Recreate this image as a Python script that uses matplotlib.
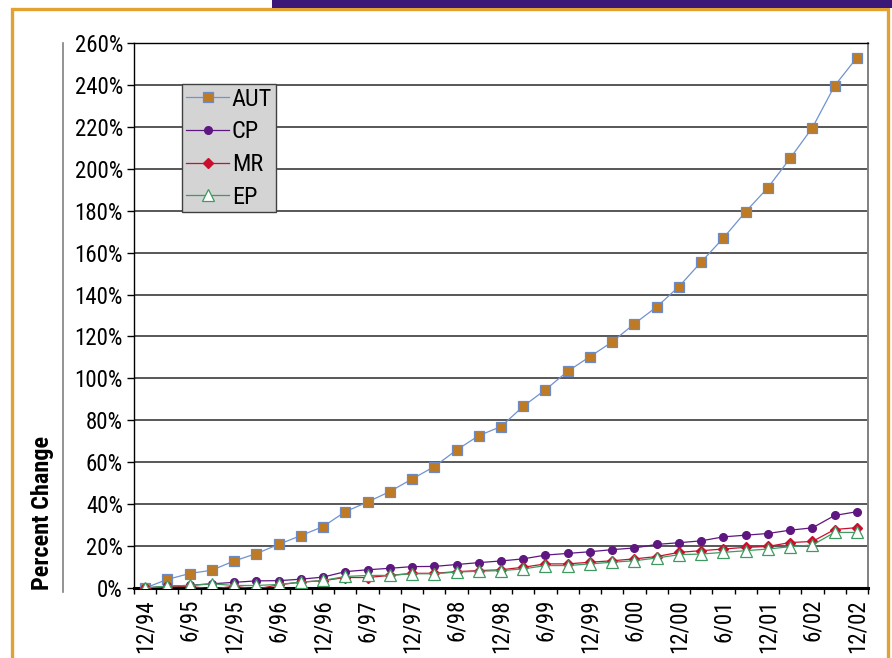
import matplotlib
matplotlib.use('Agg')
import matplotlib.pyplot as plt
import numpy as np
from matplotlib.patches import Rectangle
from matplotlib.lines import Line2D
from matplotlib.ticker import FuncFormatter

plt.rcParams['font.family'] = ['Roboto Condensed', 'DejaVu Sans']

# Quarterly observations, 12/94 .. 12/02
aut = [0, 4.1, 6.9, 8.5, 12.9, 16.4, 20.8, 25.0, 29.3, 36.4, 41.0, 46.0, 52.0,
       57.9, 65.8, 72.7, 77.0, 86.7, 94.6, 103.4, 110.4, 117.4, 126.1, 134.1,
       143.8, 155.5, 167.0, 179.5, 191.0, 205.0, 219.6, 239.6, 253.0]
cp = [0, 0.8, 1.3, 2.0, 2.7, 3.4, 3.5, 4.2, 5.2, 7.8, 8.7, 9.4, 10.2, 10.3,
      11.2, 12.1, 12.9, 13.9, 15.7, 16.5, 17.3, 18.3, 19.1, 20.8, 21.6, 22.5,
      24.4, 25.2, 26.0, 27.6, 28.7, 34.6, 36.4]
mr = [0, 0.5, 0.8, -0.5, 0.8, -0.5, 1.5, 2.8, 3.5, 5.0, 5.0, 6.0, 7.0, 7.0,
      7.8, 8.3, 8.7, 9.9, 11.5, 11.5, 12.3, 13.0, 13.9, 15.0, 17.0, 17.8,
      18.6, 19.4, 19.8, 21.7, 22.2, 27.9, 28.8]
ep = [0, 1.0, 1.2, 2.0, 1.2, 1.2, 1.7, 2.8, 3.6, 5.5, 6.0, 6.0, 6.8, 6.8,
      7.6, 8.0, 8.3, 9.1, 10.7, 10.7, 11.5, 12.3, 13.0, 14.3, 15.9, 16.2,
      17.0, 17.8, 18.6, 19.7, 20.5, 26.5, 26.5]
tick_labels = ['12/94', '6/95', '12/95', '6/96', '12/96', '6/97', '12/97',
               '6/98', '12/98', '6/99', '12/99', '6/00', '12/00', '6/01',
               '12/01', '6/02', '12/02']

W, H = 892, 658
fig = plt.figure(figsize=(W / 100, H / 100), dpi=100)
ax = fig.add_axes([134 / W, 1 - 588 / H, 734 / W, 545 / H])

x = np.arange(len(aut))
ax.plot(x, aut, color='#7092D2', lw=0.9, marker='s', ms=6.5,
        mfc='#C07A22', mec='#6A8AC8', mew=0.9, label='AUT', zorder=3)
ax.plot(x, cp, color='#5E1680', lw=0.9, marker='o', ms=5.5,
        mfc='#5E1680', mec='#5E1680', label='CP', zorder=3)
ax.plot(x, mr, color='#C8102E', lw=0.9, marker='D', ms=5.5,
        mfc='#C8102E', mec='#C8102E', label='MR', zorder=3)
ax.plot(x, ep, color='#3E9A60', lw=0.9, marker='^', ms=8,
        mfc='white', mec='#3E9A60', mew=0.9, label='EP', zorder=3)

ax.set_xlim(-0.5, len(aut) - 0.5)
ax.set_ylim(0, 260)
ax.set_yticks(np.arange(0, 261, 20))
ax.yaxis.set_major_formatter(FuncFormatter(lambda v, p: f'{v:.0f}%'))
ax.yaxis.grid(True, color='#2A2A2A', lw=1.1)
ax.set_axisbelow(True)

ax.set_xticks(x[::2])
ax.set_xticklabels(tick_labels, rotation=90)
ax.set_xticks(np.arange(-0.5, len(aut)), minor=True)
ax.tick_params(axis='x', which='major', length=0, pad=8, labelsize=16.5)
ax.tick_params(axis='x', which='minor', length=4, width=1, color='black')
ax.tick_params(axis='y', length=5, width=1, labelsize=16.5, pad=3)

for s in ['top', 'left']:
    ax.spines[s].set_color('black')
    ax.spines[s].set_linewidth(1.0)
ax.spines['bottom'].set_linewidth(2.2)
ax.spines['right'].set_color('#808080')
ax.spines['right'].set_linewidth(1.4)

leg = ax.legend(loc='upper left', bbox_to_anchor=(182 / W, 1 - 84 / H),
                bbox_transform=fig.transFigure, fontsize=17.5, frameon=True,
                fancybox=False, framealpha=1, facecolor='#D4D4D4',
                edgecolor='#404040', handlelength=1.8, handletextpad=0.1,
                labelspacing=0.4, borderpad=0.15, borderaxespad=0)
leg.get_frame().set_linewidth(1.0)

fig.text(43 / W, 1 - 590 / H, 'Percent Change', rotation=90, ha='center',
         va='bottom', fontsize=17.5, fontweight='bold')

# decorative page elements
fig.add_artist(Line2D([63 / W, 63 / W], [1 - 43 / H, 1 - 592 / H],
                      color='#808080', lw=1.2))
fig.add_artist(Rectangle((11.5 / W, -0.05), 876 / W, 1.05 - 9.5 / H,
                         fill=False, edgecolor='#E1A232', lw=2.4))
fig.add_artist(Rectangle((272 / W, 1 - 7.5 / H), 1, 7.5 / H,
                         facecolor='#3B1878', edgecolor='none'))

fig.savefig('out.png', dpi=100)
